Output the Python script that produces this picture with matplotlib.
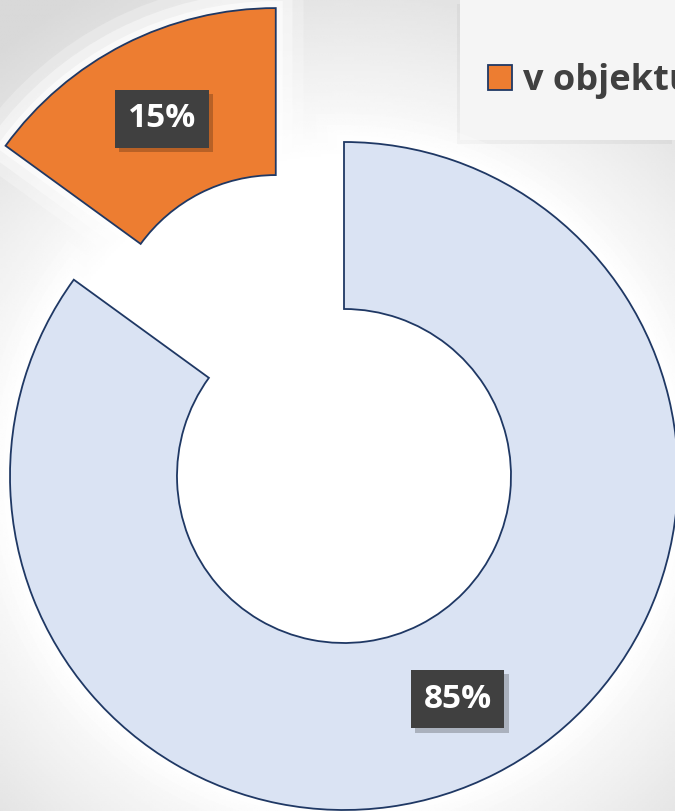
import matplotlib
matplotlib.use('Agg')
import matplotlib.pyplot as plt
import matplotlib.patheffects as pe
from matplotlib.patches import Rectangle
import numpy as np

# data
kategorie = ['mimo objekt', 'v objektu']
hodnoty = [85, 15]
barvy = ['#DAE3F3', '#ED7D31']
vysunuti = [0, 0.45]

plt.rcParams['font.family'] = ['Open Sans', 'DejaVu Sans']

W, H = 675, 811
R = 334.0            # outer radius in px
cx, cy = 344, 476    # donut centre in px (from top)
x0, x1 = -cx / R, (W - cx) / R
y0, y1 = -(H - cy) / R, cy / R

fig = plt.figure(figsize=(W / 100, H / 100), dpi=100)
ax = fig.add_axes([0, 0, 1, 1])

# light grey background with a white glow in the middle
gx, gy = np.meshgrid(np.linspace(x0, x1, 300), np.linspace(y1, y0, 360))
d = np.sqrt(gx ** 2 + gy ** 2)
val = np.clip(1 - 0.13 * np.clip(d - 0.95, 0, None) / 0.6, 0.85, 1)
ax.imshow(val, cmap='gray', vmin=0, vmax=1, extent=(x0, x1, y0, y1),
          aspect='auto', zorder=0, interpolation='bilinear')

wedges, texts, autotexts = ax.pie(
    hodnoty, explode=vysunuti, colors=barvy, startangle=90, counterclock=False,
    radius=1, autopct='%1.0f%%', pctdistance=0.75,
    wedgeprops=dict(width=0.5, edgecolor='#1F3864', linewidth=1.3),
    textprops=dict(color='white', fontsize=24, fontweight='bold'))

for at in autotexts:
    at.set_bbox(dict(boxstyle='square,pad=0.38', facecolor='#404040', edgecolor='none'))
    at.get_bbox_patch().set_path_effects(
        [pe.SimplePatchShadow(offset=(3, -3), shadow_rgbFace='black', alpha=0.22), pe.Normal()])

# legend area (cut off on the right like the original)
box = Rectangle((460 / W, 1 - 140 / H), 215 / W, 140 / H, transform=ax.transAxes,
                facecolor='#F5F5F5', edgecolor='none', zorder=0.5)
box.set_path_effects([pe.SimplePatchShadow(offset=(-2, -3), shadow_rgbFace='black', alpha=0.04), pe.Normal()])
ax.add_patch(box)

leg = ax.legend([wedges[1]], [kategorie[1]], loc='upper left',
                bbox_to_anchor=(488 / W, 1 - 63 / H), frameon=False, fontsize=26,
                handlelength=0.67, handleheight=0.67, handletextpad=0.3,
                borderpad=0, borderaxespad=0)
for t in leg.get_texts():
    t.set_color('#404040')
    t.set_fontweight('bold')

# soft white glow round the rings
for w in wedges:
    w.set_path_effects([pe.Stroke(linewidth=40, foreground='white', alpha=0.25),
                        pe.Stroke(linewidth=24, foreground='white', alpha=0.4),
                        pe.Stroke(linewidth=10, foreground='white', alpha=0.6),
                        pe.Normal()])

ax.set_xlim(x0, x1)
ax.set_ylim(y0, y1)
ax.axis('off')

fig.savefig('out.png', dpi=100)
